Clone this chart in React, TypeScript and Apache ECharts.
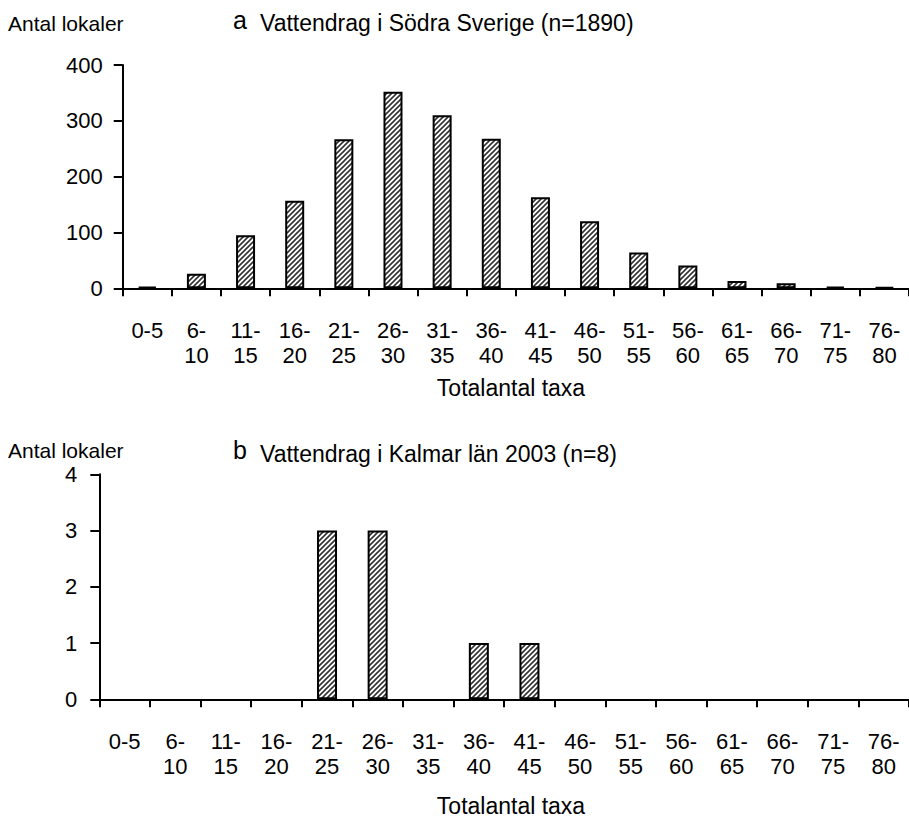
import React, { useEffect, useRef } from "react";
import * as echarts from "echarts";

const categories = ["0-5", "6-10", "11-15", "16-20", "21-25", "26-30", "31-35", "36-40", "41-45", "46-50", "51-55", "56-60", "61-65", "66-70", "71-75", "76-80"];
const southSwedenCounts = [3, 26, 95, 157, 267, 352, 310, 268, 163, 120, 64, 41, 13, 9, 3, 2];
const kalmarCounts = [0, 0, 0, 0, 3, 3, 0, 1, 1, 0, 0, 0, 0, 0, 0, 0];
const topTitle = "Vattendrag i Södra Sverige (n=1890)";
const bottomTitle = "Vattendrag i Kalmar län 2003 (n=8)";
const yAxisTitle = "Antal lokaler";
const xAxisTitle = "Totalantal taxa";

const FONT = '"Liberation Sans", Arial, sans-serif';

function makeHatch(): HTMLCanvasElement {
  const s = 5;
  const c = document.createElement("canvas");
  c.width = s;
  c.height = s;
  const g = c.getContext("2d")!;
  g.fillStyle = "#ffffff";
  g.fillRect(0, 0, s, s);
  g.strokeStyle = "#333333";
  g.lineWidth = 1.6;
  g.beginPath();
  g.moveTo(-1, s + 1);
  g.lineTo(s + 1, -1);
  g.moveTo(-1, 1);
  g.lineTo(1, -1);
  g.moveTo(s - 1, s + 1);
  g.lineTo(s + 1, s - 1);
  g.stroke();
  return c;
}

export default function App() {
  const ref = useRef<HTMLDivElement>(null);
  useEffect(() => {
    if (!ref.current) return;
    const chart = echarts.init(ref.current, null, { renderer: "svg" });
    const hatch = makeHatch();
    const labelFmt = (v: string) => (v === "0-5" ? v : v.replace("-", "-\n"));
    const axisLineStyle = { color: "#000", width: 2 };
    const xAxisCommon = {
      type: "category" as const,
      data: categories,
      axisLine: { show: true, lineStyle: axisLineStyle },
      axisTick: { show: true, length: 8, lineStyle: axisLineStyle, alignWithLabel: false },
      axisLabel: {
        formatter: labelFmt,
        color: "#000",
        fontSize: 22,
        fontFamily: FONT,
        lineHeight: 25,
        margin: 30,
        interval: 0,
        verticalAlign: "top" as const,
      },
      splitLine: { show: false },
    };
    const yAxisCommon = {
      type: "value" as const,
      axisLine: { show: true, lineStyle: axisLineStyle },
      axisTick: { show: true, length: 9, lineStyle: axisLineStyle },
      axisLabel: { color: "#000", fontSize: 22, fontFamily: FONT, margin: 20 },
      splitLine: { show: false },
    };
    const barStyle = {
      color: { image: hatch, repeat: "repeat" },
      borderColor: "#000",
      borderWidth: 2,
    };
    const nonZero = (arr: number[]) => arr.map((v) => (v === 0 ? "-" : v));
    const txt = (text: string, x: number, y: number, size = 23, align = "left") => ({
      type: "text",
      x,
      y,
      silent: true,
      style: {
        text,
        fill: "#000",
        fontSize: size,
        fontFamily: FONT,
        align,
        verticalAlign: "middle",
      },
    });
    chart.setOption({
      animation: false,
      backgroundColor: "#fff",
      grid: [
        { left: 122.7, top: 65, height: 223.3, width: 793.6 },
        { left: 99.3, top: 474.3, height: 225, width: 815.4 },
      ],
      xAxis: [
        { ...xAxisCommon, gridIndex: 0 },
        { ...xAxisCommon, gridIndex: 1 },
      ],
      yAxis: [
        { ...yAxisCommon, gridIndex: 0, min: 0, max: 400, interval: 100 },
        { ...yAxisCommon, gridIndex: 1, min: 0, max: 4, interval: 1, axisLabel: { ...yAxisCommon.axisLabel, margin: 22 } },
      ],
      series: [
        { type: "bar", xAxisIndex: 0, yAxisIndex: 0, data: southSwedenCounts, barWidth: 19, itemStyle: barStyle },
        { type: "bar", xAxisIndex: 1, yAxisIndex: 1, data: nonZero(kalmarCounts), barWidth: 20, itemStyle: barStyle },
      ],
      graphic: [
        txt(yAxisTitle, 8, 23, 21),
        txt("a", 233, 20, 25),
        txt(topTitle, 260, 23),
        txt(xAxisTitle, 511, 388, 23, "center"),
        txt(yAxisTitle, 8, 450, 21),
        txt("b", 233, 450, 25),
        txt(bottomTitle, 260, 454),
        txt(xAxisTitle, 511, 806, 23, "center"),
      ],
    });
    return () => chart.dispose();
  }, []);
  return <div ref={ref} style={{ position: "absolute", left: 0, top: 0, width: 909, height: 820 }} />;
}
